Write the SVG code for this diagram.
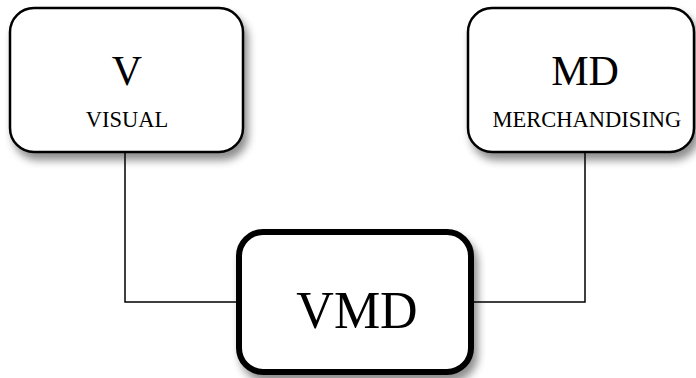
<svg xmlns="http://www.w3.org/2000/svg" width="696" height="378" viewBox="0 0 696 378">
<defs>
<filter id="sh" x="-10%" y="-10%" width="130%" height="140%">
<feGaussianBlur in="SourceAlpha" stdDeviation="4"/>
<feOffset dx="4" dy="7" result="b"/>
<feComponentTransfer><feFuncA type="linear" slope="0.45"/></feComponentTransfer>
<feMerge><feMergeNode/><feMergeNode in="SourceGraphic"/></feMerge>
</filter>
</defs>
<style>
.box{fill:#fff;stroke:#000;stroke-width:2.5}
.main{fill:#fff;stroke:#000;stroke-width:6}
.t{font-family:"Liberation Serif","Times New Roman",serif;fill:#000;text-anchor:middle}
.c{fill:none;stroke:#000;stroke-width:1.5}
</style>
<rect width="696" height="378" fill="#fff"/>
<g id="connectors">
<polyline class="c" points="125,152 125,302 237,302"/>
<polyline class="c" points="585,152 585,302 473,302"/>
</g>
<g id="node-v">
<rect class="box" x="10" y="8" width="233" height="144" rx="24" filter="url(#sh)"/>
<text class="t" x="127" y="85" font-size="42">V</text>
<text class="t" x="127" y="127" font-size="22.5">VISUAL</text>
</g>
<g id="node-md">
<rect class="box" x="468" y="8" width="226" height="144" rx="24" filter="url(#sh)"/>
<text class="t" x="585" y="85" font-size="42">MD</text>
<text class="t" x="587" y="127" font-size="22.5">MERCHANDISING</text>
</g>
<g id="node-vmd">
<rect class="main" x="239" y="232" width="232" height="140" rx="24" filter="url(#sh)"/>
<text class="t" x="357" y="328" font-size="52">VMD</text>
</g>
</svg>
